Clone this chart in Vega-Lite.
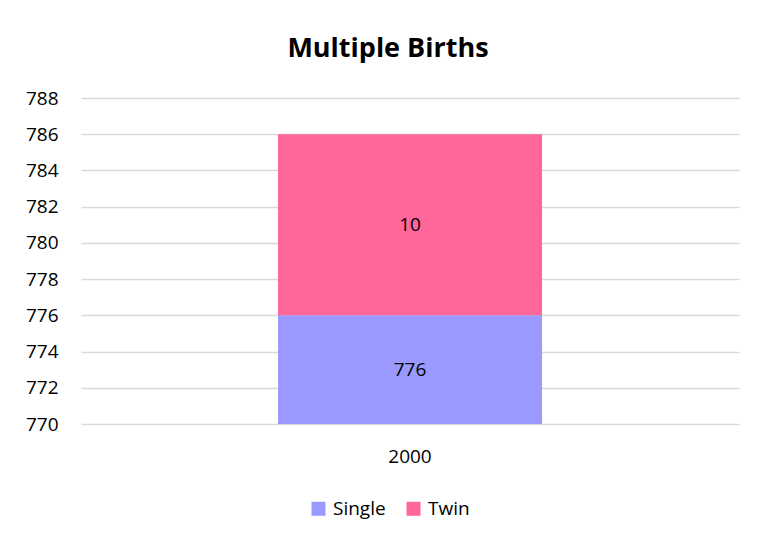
{
  "$schema": "https://vega.github.io/schema/vega-lite/v6.json",
  "width": 658,
  "height": 326,
  "autosize": {"type": "none"},
  "padding": {"left": 81, "top": 98, "right": 21, "bottom": 118},
  "background": "white",
  "title": {
    "text": "Multiple Births",
    "font": "Open Sans",
    "fontSize": 27,
    "fontWeight": "bold",
    "color": "#000000",
    "anchor": "middle",
    "dx": -22,
    "offset": 26
  },
  "data": {
    "values": [
      {"year": "2000", "type": "Single", "count": 776},
      {"year": "2000", "type": "Twin", "count": 10}
    ]
  },
  "encoding": {
    "x": {
      "field": "year",
      "type": "nominal",
      "scale": {"paddingInner": 0, "paddingOuter": 0.746},
      "axis": {
        "title": null,
        "labelAngle": 0,
        "domain": false,
        "ticks": false,
        "labelPadding": 23,
        "labelFont": "Open Sans",
        "labelFontSize": 19,
        "labelColor": "#000000"
      }
    }
  },
  "layer": [
    {
      "mark": {"type": "bar", "clip": true},
      "encoding": {
        "y": {
          "field": "count",
          "type": "quantitative",
          "stack": "zero",
          "scale": {"domain": [770, 788], "zero": false, "nice": false},
          "axis": {
            "title": null,
            "values": [770, 772, 774, 776, 778, 780, 782, 784, 786, 788],
            "labelOverlap": false,
            "domain": false,
            "ticks": false,
            "grid": true,
            "gridColor": "#D9D9D9",
            "gridWidth": 1.3,
            "labelPadding": 23,
            "labelFont": "Open Sans",
            "labelFontSize": 19,
            "labelColor": "#000000"
          }
        },
        "order": {"field": "type", "sort": "ascending"},
        "color": {
          "field": "type",
          "type": "nominal",
          "scale": {"domain": ["Single", "Twin"], "range": ["#9999FF", "#FF6699"]},
          "legend": {
            "title": null,
            "orient": "none",
            "legendX": 228,
            "legendY": 401,
            "direction": "horizontal",
            "symbolType": "square",
            "symbolSize": 196,
            "symbolStrokeWidth": 0,
            "labelFont": "Open Sans",
            "labelFontSize": 19,
            "labelColor": "#000000",
            "columnPadding": 18,
            "labelOffset": 5
          }
        }
      }
    },
    {
      "transform": [
        {"stack": "count", "groupby": ["year"], "as": ["c0", "c1"], "sort": [{"field": "type"}]},
        {"calculate": "(max(datum.c0, 770) + datum.c1) / 2", "as": "mid"}
      ],
      "mark": {"type": "text", "font": "Open Sans", "fontSize": 19, "color": "#000000"},
      "encoding": {
        "y": {
          "field": "mid",
          "type": "quantitative",
          "scale": {"domain": [770, 788], "zero": false, "nice": false},
          "axis": {
            "title": null,
            "values": [770, 772, 774, 776, 778, 780, 782, 784, 786, 788],
            "labelOverlap": false,
            "domain": false,
            "ticks": false,
            "grid": true,
            "gridColor": "#D9D9D9",
            "gridWidth": 1.3,
            "labelPadding": 23,
            "labelFont": "Open Sans",
            "labelFontSize": 19,
            "labelColor": "#000000"
          }
        },
        "text": {"field": "count", "type": "quantitative"}
      }
    }
  ],
  "config": {
    "view": {"stroke": null}
  }
}
